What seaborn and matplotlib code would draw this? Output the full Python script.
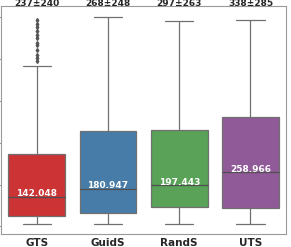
import pandas as pd
import matplotlib
matplotlib.use("Agg")
import matplotlib.pyplot as plt
import seaborn as sns

# values
methods = ["GTS", "GuidS", "RandS", "UTS"]

gts_values = [10, 14, 18, 21, 24, 27, 30, 33, 36, 40, 43, 46, 49,
              52, 58, 64, 70, 77, 84, 91, 98, 105, 112, 120, 128, 135,
              142.048, 155, 170, 185, 200, 215, 230, 245, 260, 280, 300, 315, 330,
              345, 768,
              792, 805, 822, 842, 866, 878, 900, 918, 935, 952, 970, 988]
guids_values = [10, 63, 180.947, 458, 1004]
rands_values = [10, 93, 197.443, 460, 985]
uts_values = [12, 90, 258.966, 522, 988]

median_labels = ["142.048", "180.947", "197.443", "258.966"]
median_values = [142.048, 180.947, 197.443, 258.966]
mean_std_labels = ["237±240", "268±248", "297±263", "338±285"]

groups = [gts_values, guids_values, rands_values, uts_values]
df = pd.DataFrame({
    "method": [m for m, vals in zip(methods, groups) for _ in vals],
    "value": [v for vals in groups for v in vals],
})

sns.set_style("ticks")

fig = plt.figure(figsize=(2.91, 2.47), dpi=100)
ax = fig.add_axes([0.004, 0.053, 0.979, 0.923])

sns.boxplot(data=df, x="method", y="value", hue="method", order=methods,
            palette="Set1", legend=False, width=0.8, linecolor="#707070",
            linewidth=0.9, ax=ax,
            medianprops=dict(color="#505050", linewidth=0.9),
            flierprops=dict(marker="d", markersize=2, markerfacecolor="#555555",
                            markeredgecolor="#555555"))

ax.set_ylim(-36, 1055)
ax.set_yticks([0, 200, 400, 600, 800, 1000])
ax.set_yticklabels([])
ax.tick_params(axis="y", length=3, color="#999999", width=0.8)
ax.tick_params(axis="x", length=0, pad=3)
ax.set_xlabel("")
ax.set_ylabel("")
for lab in ax.get_xticklabels():
    lab.set_fontweight("bold")
    lab.set_fontsize(7.5)

for s in ax.spines.values():
    s.set_visible(True)
    s.set_color("#999999")
    s.set_linewidth(0.8)

for i, (med, lab) in enumerate(zip(median_values, median_labels)):
    ax.annotate(lab, (i, med), xytext=(0, 2.2), textcoords="offset points",
                ha="center", va="center", color="white", fontweight="bold",
                fontsize=6.5)

for i, lab in enumerate(mean_std_labels):
    ax.text(i, 1.012, lab, transform=ax.get_xaxis_transform(), ha="center",
            va="center", fontweight="bold", fontsize=6.5)

fig.savefig("out.png", dpi=100)
